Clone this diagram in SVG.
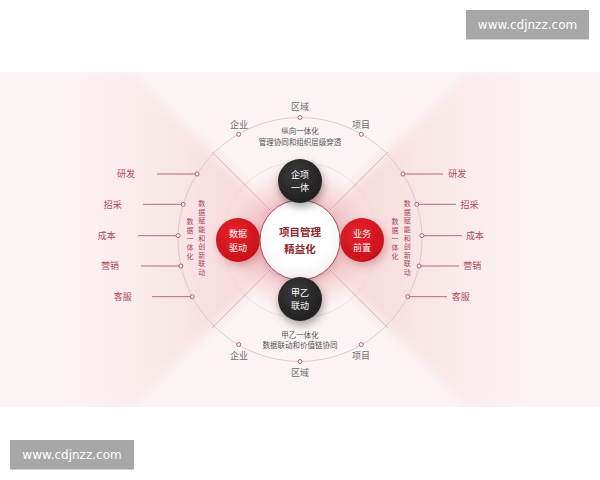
<svg xmlns="http://www.w3.org/2000/svg" width="600" height="480" viewBox="0 0 600 480">
  <defs>
    <linearGradient id="wedgeL" gradientUnits="userSpaceOnUse" x1="60" y1="0" x2="300" y2="0">
      <stop offset="0" stop-color="#f3c9cd" stop-opacity="0"/>
      <stop offset="0.45" stop-color="#f3c9cd" stop-opacity="0.3"/>
      <stop offset="1" stop-color="#efb9be" stop-opacity="0.7"/>
    </linearGradient>
    <linearGradient id="wedgeR" gradientUnits="userSpaceOnUse" x1="540" y1="0" x2="300" y2="0">
      <stop offset="0" stop-color="#f3c9cd" stop-opacity="0"/>
      <stop offset="0.45" stop-color="#f3c9cd" stop-opacity="0.3"/>
      <stop offset="1" stop-color="#efb9be" stop-opacity="0.7"/>
    </linearGradient>
    <radialGradient id="glow" cx="300" cy="240" r="78" gradientUnits="userSpaceOnUse">
      <stop offset="0.45" stop-color="#f0b3ba" stop-opacity="0.9"/>
      <stop offset="0.8" stop-color="#f5d3d6" stop-opacity="0.45"/>
      <stop offset="1" stop-color="#fbeeee" stop-opacity="0"/>
    </radialGradient>
    <radialGradient id="blackG" cx="0.4" cy="0.35" r="0.7">
      <stop offset="0" stop-color="#3a3a3a"/>
      <stop offset="1" stop-color="#1f1f1f"/>
    </radialGradient>
    <radialGradient id="redG" cx="0.4" cy="0.35" r="0.7">
      <stop offset="0" stop-color="#e8242b"/>
      <stop offset="1" stop-color="#c50f18"/>
    </radialGradient>
    <radialGradient id="whiteG" cx="0.5" cy="0.45" r="0.6">
      <stop offset="0.6" stop-color="#ffffff"/>
      <stop offset="1" stop-color="#f3eded"/>
    </radialGradient>
    <filter id="soft" x="-10%" y="-10%" width="120%" height="120%">
      <feGaussianBlur stdDeviation="6"/>
    </filter>
    <filter id="shadowDark" x="-60%" y="-60%" width="220%" height="220%">
      <feDropShadow dx="1" dy="4" stdDeviation="4" flood-color="#000000" flood-opacity="0.35"/>
    </filter>
    <filter id="shadowRed" x="-60%" y="-60%" width="220%" height="220%">
      <feDropShadow dx="3" dy="4" stdDeviation="4" flood-color="#b0303a" flood-opacity="0.35"/>
    </filter>
    <filter id="shadowWhite" x="-40%" y="-40%" width="180%" height="180%">
      <feDropShadow dx="0" dy="2" stdDeviation="3" flood-color="#8a4a50" flood-opacity="0.25"/>
    </filter>
    <clipPath id="panelClip">
      <rect x="0" y="72" width="600" height="335"/>
    </clipPath>
  </defs>
  <style>
    .lbl { font-family: "Noto Sans CJK SC", "Noto Sans", sans-serif; font-size: 9px; fill: #b04a5c; }
    .grey { font-family: "Noto Sans CJK SC", "Noto Sans", sans-serif; font-size: 9px; fill: #6e6e6e; text-anchor: middle; }
    .desc { font-family: "Noto Sans CJK SC", "Noto Sans", sans-serif; font-size: 7.5px; fill: #555555; text-anchor: middle; }
    .vert { font-family: "Noto Sans CJK SC", "Noto Sans", sans-serif; font-size: 7px; fill: #a8465a; writing-mode: vertical-rl; text-orientation: upright; letter-spacing: 1.6px; }
    .white { font-family: "Noto Sans CJK SC", "Noto Sans", sans-serif; font-size: 9px; fill: #ffffff; text-anchor: middle; }
    .center { font-family: "Noto Sans CJK SC", "Noto Sans", sans-serif; font-size: 10.5px; font-weight: bold; fill: #8e2a30; text-anchor: middle; }
    .lead { stroke: #b46a76; stroke-width: 1; fill: none; }
    .dot { fill: #ffffff; stroke: #a0505c; stroke-width: 0.9; }
    .diag { stroke: #dfaeb3; stroke-width: 0.9; }
    .wm { font-family: "DejaVu Sans", sans-serif; font-size: 12px; fill: #ffffff; text-anchor: middle; }
  </style>

  <rect x="0" y="0" width="600" height="480" fill="#ffffff"/>
  <!-- background panel -->
  <rect x="0" y="72" width="600" height="335" fill="#fcf4f4"/>
  <g clip-path="url(#panelClip)">
    <polygon points="300,240 132,72 0,72 0,407 132,407" fill="url(#wedgeL)" filter="url(#soft)"/>
    <polygon points="300,240 468,72 600,72 600,407 468,407" fill="url(#wedgeR)" filter="url(#soft)"/>
  </g>
  <circle cx="300" cy="240" r="78" fill="url(#glow)"/>

  <!-- rings and diagonals -->
  <g id="rings">
    <circle cx="300" cy="239.5" r="122" fill="none" stroke="#dcc3c7" stroke-width="0.9"/>
    <circle cx="300" cy="240" r="78" fill="none" stroke="#ecd8da" stroke-width="0.8"/>
    <line class="diag" x1="270" y1="210" x2="212" y2="152"/>
    <line class="diag" x1="330" y1="210" x2="388" y2="152"/>
    <line class="diag" x1="270" y1="270" x2="212" y2="328"/>
    <line class="diag" x1="330" y1="270" x2="388" y2="328"/>
  </g>

  <!-- connectors: leader lines and dots -->
  <g id="connectors">
    <line class="lead" x1="157" y1="174" x2="197" y2="174"/>
    <line class="lead" x1="143" y1="204.3" x2="183" y2="204.3"/>
    <line class="lead" x1="138" y1="235.7" x2="178" y2="235.7"/>
    <line class="lead" x1="141" y1="266" x2="181" y2="266"/>
    <line class="lead" x1="152" y1="296.7" x2="192" y2="296.7"/>
    <line class="lead" x1="403" y1="174" x2="443" y2="174"/>
    <line class="lead" x1="417" y1="204.3" x2="456" y2="204.3"/>
    <line class="lead" x1="422" y1="235.7" x2="462" y2="235.7"/>
    <line class="lead" x1="419" y1="266" x2="459" y2="266"/>
    <line class="lead" x1="408" y1="296.7" x2="447" y2="296.7"/>
    <circle class="dot" cx="197.1" cy="174" r="2"/>
    <circle class="dot" cx="183.2" cy="204.3" r="2"/>
    <circle class="dot" cx="178.1" cy="235.7" r="2"/>
    <circle class="dot" cx="180.9" cy="266" r="2"/>
    <circle class="dot" cx="192.2" cy="296.7" r="2"/>
    <circle class="dot" cx="402.9" cy="174" r="2"/>
    <circle class="dot" cx="416.8" cy="204.3" r="2"/>
    <circle class="dot" cx="421.9" cy="235.7" r="2"/>
    <circle class="dot" cx="419.1" cy="266" r="2"/>
    <circle class="dot" cx="407.8" cy="296.7" r="2"/>
    <circle class="dot" cx="238.7" cy="134.3" r="2"/>
    <circle class="dot" cx="300" cy="117.5" r="2"/>
    <circle class="dot" cx="361.3" cy="134.3" r="2"/>
    <circle class="dot" cx="238.7" cy="344.6" r="2"/>
    <circle class="dot" cx="300" cy="361.5" r="2"/>
    <circle class="dot" cx="361.3" cy="344.6" r="2"/>
  </g>

  <!-- side labels -->
  <g id="left-labels">
    <text class="lbl" x="135" y="177.2" text-anchor="end">研发</text>
    <text class="lbl" x="121.7" y="207.5" text-anchor="end">招采</text>
    <text class="lbl" x="115.7" y="238.9" text-anchor="end">成本</text>
    <text class="lbl" x="119" y="269.2" text-anchor="end">营销</text>
    <text class="lbl" x="131.7" y="299.9" text-anchor="end">客服</text>
    <text class="vert" x="201.7" y="200">数据赋能和创新联动</text>
    <text class="vert" x="190" y="218">数据一体化</text>
  </g>
  <g id="right-labels">
    <text class="lbl" x="448.3" y="177.2">研发</text>
    <text class="lbl" x="460.5" y="207.5">招采</text>
    <text class="lbl" x="466" y="238.9">成本</text>
    <text class="lbl" x="463.3" y="269.2">营销</text>
    <text class="lbl" x="451.7" y="299.9">客服</text>
    <text class="vert" x="407.3" y="200">数据赋能和创新联动</text>
    <text class="vert" x="395" y="218">数据一体化</text>
  </g>
  <g id="top-labels">
    <text class="grey" x="300" y="110">区域</text>
    <text class="grey" x="239" y="127.5">企业</text>
    <text class="grey" x="361" y="127.5">项目</text>
    <text class="desc" x="300" y="134.4">纵向一体化</text>
    <text class="desc" x="300" y="145">管理协同和组织层级穿透</text>
  </g>
  <g id="bottom-labels">
    <text class="desc" x="300" y="337.7">甲乙一体化</text>
    <text class="desc" x="300" y="348">数据联动和价值链协同</text>
    <text class="grey" x="239" y="359">企业</text>
    <text class="grey" x="361" y="359">项目</text>
    <text class="grey" x="300" y="375.5">区域</text>
  </g>

  <!-- nodes -->
  <g id="node-left">
    <circle cx="238" cy="240" r="22" fill="url(#redG)" filter="url(#shadowRed)"/>
    <text class="white" x="238" y="236.5">数据</text>
    <text class="white" x="238" y="250.8">驱动</text>
  </g>
  <g id="node-right">
    <circle cx="362" cy="240" r="22" fill="url(#redG)" filter="url(#shadowRed)"/>
    <text class="white" x="362" y="236.5">业务</text>
    <text class="white" x="362" y="250.8">前置</text>
  </g>
  <g id="node-center">
    <circle cx="300" cy="240" r="40" fill="url(#whiteG)" stroke="#a5545c" stroke-width="1" filter="url(#shadowWhite)"/>
    <text class="center" x="300" y="235.8">项目管理</text>
    <text class="center" x="300" y="253">精益化</text>
  </g>
  <g id="node-top">
    <circle cx="300" cy="181" r="22" fill="url(#blackG)" filter="url(#shadowDark)"/>
    <text class="white" x="300" y="177.8">企项</text>
    <text class="white" x="300" y="190.6">一体</text>
  </g>
  <g id="node-bottom">
    <circle cx="300" cy="299" r="22" fill="url(#blackG)" filter="url(#shadowDark)"/>
    <text class="white" x="300" y="296.2">甲乙</text>
    <text class="white" x="300" y="309.2">联动</text>
  </g>

  <!-- watermarks -->
  <g id="watermark-top">
    <rect x="466" y="10" width="123" height="29.5" fill="#a7a7a7"/>
    <text class="wm" x="527.5" y="29">www.cdjnzz.com</text>
  </g>
  <g id="watermark-bottom">
    <rect x="10" y="440" width="124" height="29.5" fill="#a7a7a7"/>
    <text class="wm" x="72" y="459">www.cdjnzz.com</text>
  </g>
</svg>
